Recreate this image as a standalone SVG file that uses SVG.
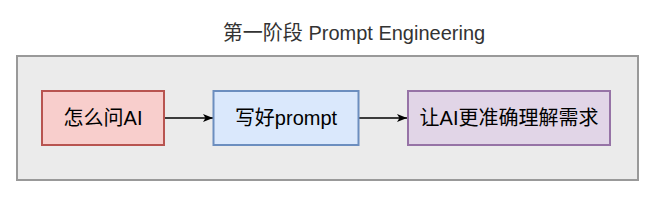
<svg xmlns="http://www.w3.org/2000/svg" width="656" height="202" viewBox="0 0 656 202">
  <style>
    text { font-family: "Liberation Sans", "Noto Sans CJK SC", sans-serif; font-size: 20px; text-anchor: middle; fill: #000; }
    .title { fill: #333333; }
    .box { stroke-width: 2; }
    .edge { stroke: #000; stroke-width: 1.3; fill: none; marker-end: url(#arrow); }
  </style>
  <defs>
    <marker id="arrow" viewBox="0 0 10 10" refX="10" refY="5" markerWidth="10" markerHeight="10" markerUnits="userSpaceOnUse" orient="auto">
      <path d="M0,1 L10,5 L0,9 L2.5,5 Z" fill="#000"/>
    </marker>
  </defs>
  <rect width="656" height="202" fill="#ffffff"/>
  <g id="container">
    <rect x="17" y="56" width="621" height="124" fill="#ebebeb" stroke="#999999" stroke-width="2"/>
    <text class="title" x="354" y="40">第一阶段 Prompt Engineering</text>
  </g>
  <g id="connectors">
    <line class="edge" x1="164" y1="118" x2="213" y2="118"/>
    <line class="edge" x1="358" y1="118" x2="407" y2="118"/>
  </g>
  <g id="node1">
    <rect class="box" x="42" y="91" width="122" height="54" fill="#f8cecc" stroke="#b85450"/>
    <text x="103" y="125">怎么问AI</text>
  </g>
  <g id="node2">
    <rect class="box" x="213.5" y="91" width="145" height="54" fill="#dae8fc" stroke="#6c8ebf"/>
    <text x="286" y="125">写好prompt</text>
  </g>
  <g id="node3">
    <rect class="box" x="408" y="91" width="202" height="54" fill="#e1d5e7" stroke="#9673a6"/>
    <text x="509" y="125">让AI更准确理解需求</text>
  </g>
</svg>
